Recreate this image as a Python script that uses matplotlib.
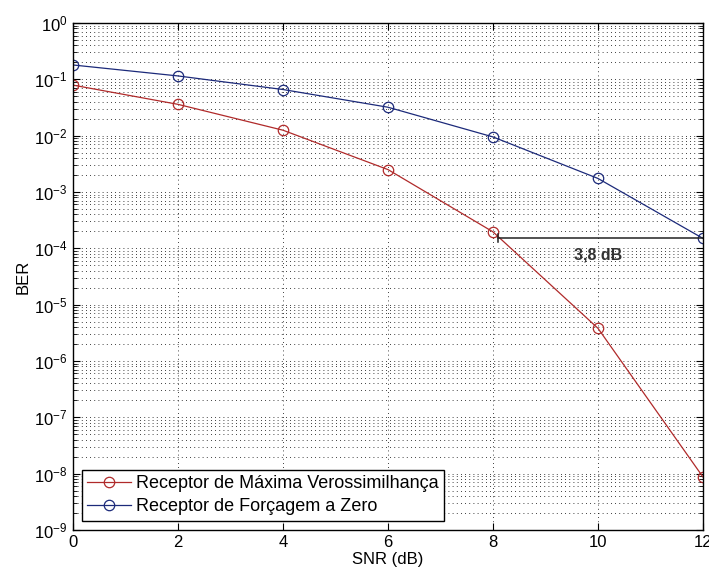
import matplotlib
matplotlib.use("Agg")
import matplotlib.pyplot as plt
from matplotlib.ticker import LogLocator, NullFormatter, FixedLocator

plt.rcParams['font.family'] = ['Liberation Sans', 'DejaVu Sans']

snr = [0, 2, 4, 6, 8, 10, 12]
ber_ml = [0.079, 0.036, 0.0125, 2.5e-3, 1.96e-4, 3.8e-6, 8.7e-9]
ber_zf = [0.18, 0.115, 0.066, 0.032, 0.0095, 1.74e-3, 1.5e-4]
label_ml = "Receptor de Máxima Verossimilhança"
label_zf = "Receptor de Forçagem a Zero"
gap_text = "3,8 dB"
gap_x = [8.1, 12]
gap_y = 1.5e-4
xticks = [0, 2, 4, 6, 8, 10, 12]

red = "#b02a2a"
blue = "#1c2a7a"

fig = plt.figure(figsize=(7.09, 5.76), dpi=100)
ax = fig.add_axes([0.103, 0.080, 0.8885, 0.880])

ax.semilogy(snr, ber_ml, '-o', color=red, lw=0.9, ms=7.5, mfc='none', mew=0.9, label=label_ml)
ax.semilogy(snr, ber_zf, '-o', color=blue, lw=0.9, ms=7.5, mfc='none', mew=0.9, label=label_zf)

# annotation line
ax.plot(gap_x, [gap_y, gap_y], color='#222222', lw=1.1)
ax.plot([gap_x[0], gap_x[0]], [gap_y * 0.85, gap_y * 1.18], color='#222222', lw=1.1)
ax.text(10.0, gap_y * 0.5, gap_text, ha='center', va='center', fontsize=11.5,
        fontweight='bold', color='#333333')

ax.set_xlim(0, 12)
ax.set_ylim(1e-9, 1)
ax.xaxis.set_major_locator(FixedLocator(xticks))
ax.yaxis.set_major_locator(LogLocator(base=10, numticks=20))
ax.yaxis.set_minor_locator(LogLocator(base=10, subs=range(2, 10), numticks=20))
ax.yaxis.set_minor_formatter(NullFormatter())

ax.grid(True, which='major', axis='both', color='black', linestyle=(0, (1, 4)), lw=0.6)
ax.grid(True, which='minor', axis='y', color='black', linestyle=(0, (1, 4)), lw=0.6)

ax.tick_params(which='both', direction='in', top=True, right=True, labelsize=12)
ax.tick_params(which='major', length=5, pad=4)
ax.tick_params(which='minor', length=3)
for s in ax.spines.values():
    s.set_linewidth(1.0)

ax.set_xlabel("SNR (dB)", fontsize=12, labelpad=1)
ax.set_ylabel("BER", fontsize=12, labelpad=2)

leg = ax.legend(loc='lower left', fontsize=13, frameon=True, fancybox=False,
                edgecolor='black', framealpha=1, borderaxespad=0.5,
                handlelength=2.4, borderpad=0.3, labelspacing=0.35, handletextpad=0.3)
leg.get_frame().set_linewidth(1.0)

fig.savefig("out.png", dpi=100)
